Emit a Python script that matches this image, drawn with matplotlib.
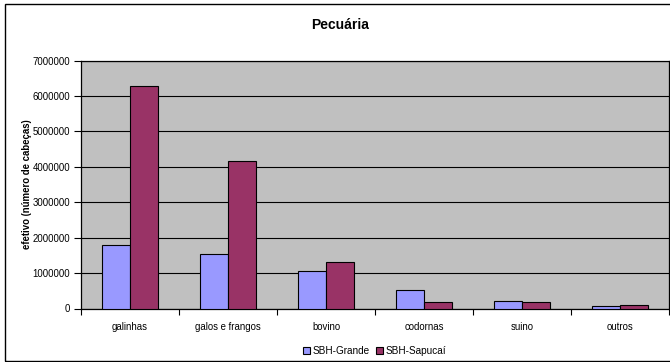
import matplotlib
matplotlib.use("Agg")
import matplotlib.pyplot as plt
import numpy as np
from matplotlib.patches import Rectangle
from matplotlib.ticker import FixedLocator, NullFormatter

plt.rcParams['font.family'] = ['Liberation Sans', 'DejaVu Sans']

categories = ["galinhas", "galos e frangos", "bovino", "codornas", "suino", "outros"]
sbh_grande = [1800000, 1540000, 1050000, 510000, 200000, 60000]
sbh_sapucai = [6280000, 4170000, 1300000, 180000, 180000, 90000]
series_names = ["SBH-Grande", "SBH-Sapucaí"]
yticks = [0, 1000000, 2000000, 3000000, 4000000, 5000000, 6000000, 7000000]

fig = plt.figure(figsize=(6.70, 3.62), dpi=100)
ax = fig.add_axes([81 / 670, 1 - 308.5 / 362, (669 - 81) / 670, (308.5 - 60.5) / 362])
ax.set_facecolor("#C0C0C0")

x = np.arange(len(categories))
w = 0.29
ax.bar(x - w / 2, sbh_grande, w, color="#9999FF", edgecolor="black", linewidth=0.8,
       label=series_names[0], zorder=3)
ax.bar(x + w / 2, sbh_sapucai, w, color="#993366", edgecolor="black", linewidth=0.8,
       label=series_names[1], zorder=3)

ax.set_xlim(-0.5, len(categories) - 0.5)
ax.set_ylim(0, 7000000)
ax.set_yticks(yticks)
ax.set_yticklabels([str(v) for v in yticks], fontsize=6.9)
ax.yaxis.grid(True, color="black", linewidth=0.8, zorder=1)
ax.set_axisbelow(True)

ax.set_xticks(x)
ax.set_xticklabels(categories, fontsize=6.9)
ax.tick_params(axis="x", which="major", length=0, pad=10)
ax.xaxis.set_minor_locator(FixedLocator(np.arange(-0.5, len(categories), 1.0)))
ax.xaxis.set_minor_formatter(NullFormatter())
ax.tick_params(axis="x", which="minor", length=4, width=0.8, direction="out")
ax.tick_params(axis="y", length=5, width=0.8, direction="out", pad=3)

for side in ["left", "bottom", "top", "right"]:
    ax.spines[side].set_linewidth(0.9)
    ax.spines[side].set_color("black")

ax.set_ylabel("efetivo (número de cabeças)", fontsize=6.9, fontweight="bold", labelpad=0)

fig.text(0.508, 1 - 25 / 362, "Pecuária", ha="center", va="center",
         fontsize=10, fontweight="bold")

leg = fig.legend(loc="center", bbox_to_anchor=(374.5 / 670, 1 - 351 / 362), ncol=2,
                 fontsize=7.2, frameon=False, handlelength=0.7, handleheight=0.7,
                 handletextpad=0.3, columnspacing=0.6, borderpad=0)

fig.patches.append(Rectangle((4.5 / 670, 1 - 360.5 / 362), 1.0, 357 / 362,
                             transform=fig.transFigure, fill=False,
                             edgecolor="black", linewidth=1.0, zorder=0))

fig.savefig("out.png", dpi=100)
